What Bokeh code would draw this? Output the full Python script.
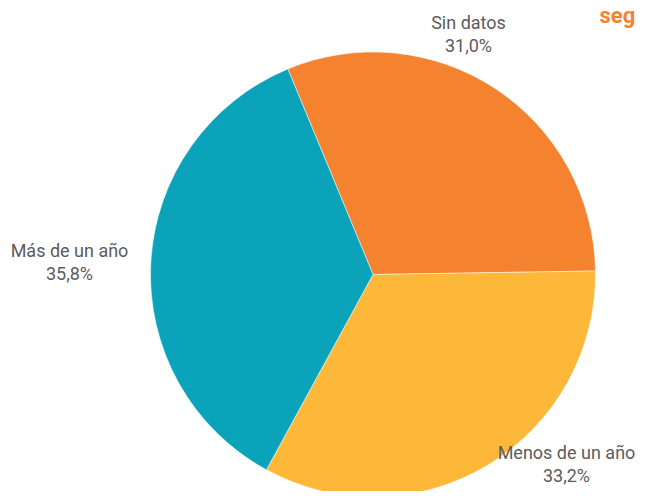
import math
from bokeh.plotting import figure
from bokeh.models import Range1d, ColumnDataSource
from bokeh.embed import file_html
from bokeh.resources import INLINE
from bokeh.core.properties import value

# Data
categories = ["Sin datos", "Menos de un año", "Más de un año"]
values = [31.0, 33.2, 35.8]
pct_labels = ["31,0%", "33,2%", "35,8%"]
colors = ["#F4822F", "#FDB83A", "#0AA3BA"]

W, H = 637, 491
p = figure(width=W, height=H, output_backend="svg", toolbar_location=None,
           x_range=Range1d(0, W), y_range=Range1d(0, H), min_border=0)
p.axis.visible = False
p.grid.visible = False
p.outline_line_color = None
p.background_fill_color = "white"

cx, cy_pix, R = 372.5, 274, 222.5
cy = H - cy_pix

total = sum(values)
start_cw = -22.5  # degrees clockwise from top
starts, ends = [], []
acc = start_cw
for v in values:
    a0 = acc
    a1 = acc + v / total * 360.0
    starts.append(math.radians(90 - a0))
    ends.append(math.radians(90 - a1))
    acc = a1

src = ColumnDataSource(dict(start=starts, end=ends, color=colors, cat=categories))
p.wedge(x=cx, y=cy, radius=R, start_angle="start", end_angle="end",
        direction="clock", fill_color="color", line_color="white", line_width=0.5,
        source=src)

# label anchor positions (pixels from top-left)
label_pos = [(468, 22), (566, 452), (69, 250)]
lx, ly1, ly2 = [], [], []
for (x, y) in label_pos:
    lx.append(x)
    ly1.append(H - y)
    ly2.append(H - (y + 23))

tsrc = ColumnDataSource(dict(x=lx, y1=ly1, y2=ly2, name=categories, pct=pct_labels))
for col, ycol in (("name", "y1"), ("pct", "y2")):
    p.text(x="x", y=ycol, text=col, source=tsrc, text_align="center",
           text_baseline="middle", text_font=value("Roboto"), text_font_size="18px",
           text_color="#5c5c5c")

p.text(x=[599], y=[H - 15], text=["seg"], text_align="left",
       text_baseline="middle", text_font=value("Roboto"), text_font_size="22px",
       text_font_style="bold", text_color="#F4822F")

open("out.html", "w").write(file_html(p, INLINE))
